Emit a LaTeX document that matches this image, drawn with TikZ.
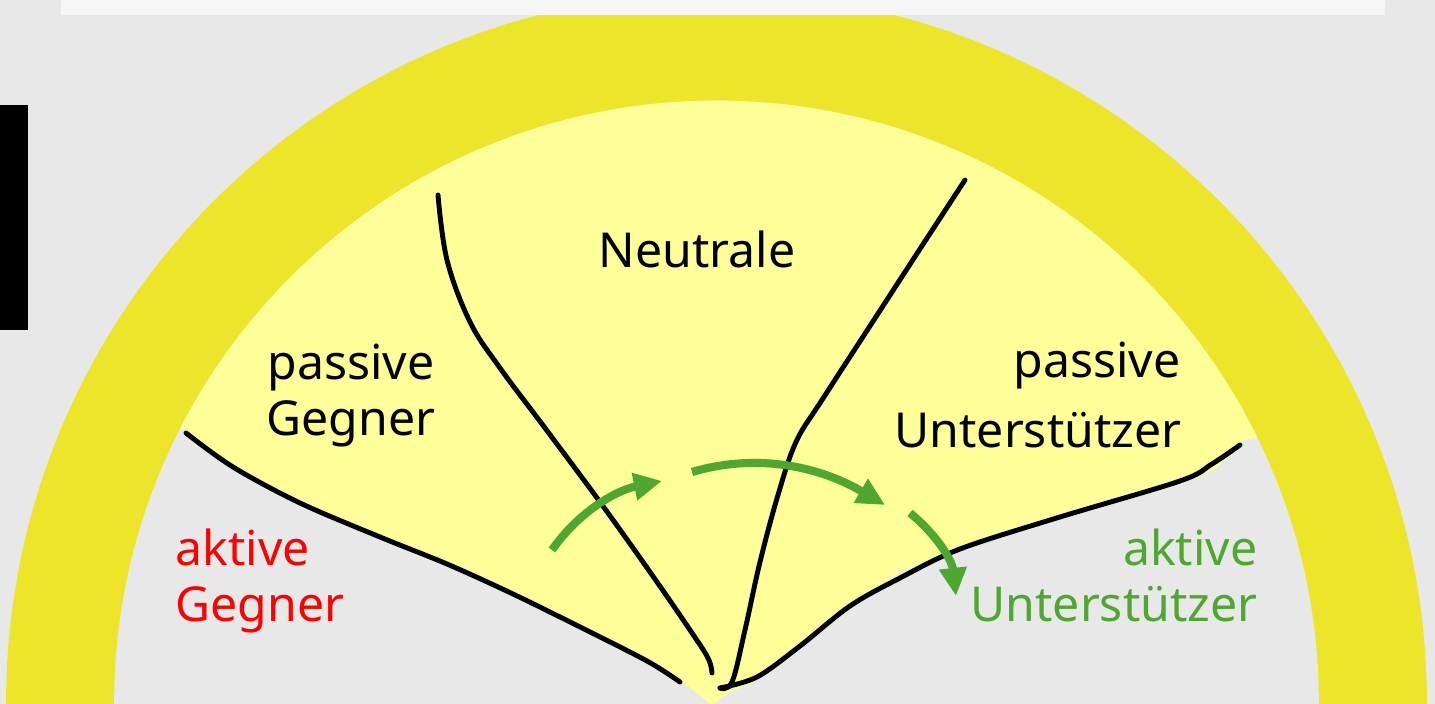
\documentclass[tikz,border=0pt]{standalone}
\usepackage{fontspec}
\setmainfont{Noto Sans}
\usetikzlibrary{arrows.meta}
\definecolor{bggray}{HTML}{E8E8E8}
\definecolor{barwhite}{HTML}{F6F6F6}
\definecolor{ringyellow}{HTML}{EDE52A}
\definecolor{paleyellow}{HTML}{FFFF99}
\definecolor{flowgreen}{HTML}{4EA72E}
\tikzset{
  divide/.style = {draw=black, line width=1.4pt, line cap=round, line join=round},
  flow/.style   = {draw=flowgreen, line width=2.3pt,
                   -{Triangle[length=8pt,width=7.5pt]}},
  lbl/.style    = {inner sep=0pt, font=\fontsize{13.7}{16}\selectfont} % all texts
}

\begin{document}
\begin{tikzpicture}[x=0.01cm, y=-0.01cm]
\useasboundingbox (0,0) rectangle (1435,704);
\clip (0,0) rectangle (1435,704);
\fill[bggray] (0,0) rectangle (1435,704);
\coordinate (M) at (716.5,703);              % centre of the half ring
\fill[ringyellow] (M) circle (7.1cm);
\fill[bggray] (M) circle (6.02cm);
\begin{scope}
  \clip (M) circle (6.02cm);
  \fill[paleyellow] (712,705) -- (688,686) -- (647,662) -- (580,629) -- (513,595)
    -- (447,565) -- (380,539) -- (300,505) -- (233,469) -- (181,428) -- (100,380) -- (100,0)
    -- (1340,0) -- (1340,420) -- (1244,440) -- (1214,470) -- (1180,484)
    -- (1060,518) -- (960,548) -- (900,572) -- (850,607) -- (800,647)
    -- (757,680) -- (730,692) -- cycle; % passive and neutral area
\end{scope}
\fill[barwhite] (61,0) rectangle (1385,15);
\fill[black] (0,105) rectangle (28,330);

% borders between the groups
\draw[divide] plot[smooth, tension=0.55] coordinates {(186,433) (233,467) (300,503)
  (380,537) (447,564) (513,594) (580,627) (647,661) (680,682)};
\draw[divide] plot[smooth, tension=0.6] coordinates {(438,195) (447,260) (470,322)
  (500,368) (545,428) (600,502) (650,572) (690,630) (708,658) (712,673)};
\draw[divide] plot[smooth, tension=0.6] coordinates {(965,180) (918,252) (870,326)
  (822,400) (796,442) (778,495) (760,562) (745,630) (732,682) (720,688)};
\draw[divide] plot[smooth, tension=0.55] coordinates {(720,688) (757,677) (800,646)
  (850,606) (900,578) (960,549) (1060,517) (1180,481) (1212,464) (1240,445)};

% shifts between the groups
\coordinate (f1a) at (552,550);
\coordinate (f1b) at (662,481);
\coordinate (f2a) at (692,472);
\coordinate (f2b) at (885,505);
\coordinate (f3a) at (910,513);
\coordinate (f3b) at (956,596);
\draw[flow] (f1a) .. controls (580,510) and (618,490) .. (f1b);
\draw[flow] (f2a) .. controls (760,452) and (822,468) .. (f2b);
\draw[flow] (f3a) .. controls (936,534) and (952,560) .. (f3b);

\node[lbl, anchor=base] (neutral) at (697,268) {Neutrale};
\node[lbl, anchor=base west] (pgA) at (267,380) {passive};
\node[lbl, anchor=base west] (pgB) at (266,436) {Gegner};
\node[lbl, anchor=base east] (puA) at (1181,378) {passive};
\node[lbl, anchor=base east] (puB) at (1182,448) {Unterstützer};
\node[lbl, anchor=base west, text=red] (agA) at (175,566) {aktive};
\node[lbl, anchor=base west, text=red] (agB) at (175,622) {Gegner};
\node[lbl, anchor=base east, text=flowgreen] (auA) at (1258,566) {aktive};
\node[lbl, anchor=base east, text=flowgreen] (auB) at (1258,622) {Unterstützer};
\end{tikzpicture}
\end{document}
